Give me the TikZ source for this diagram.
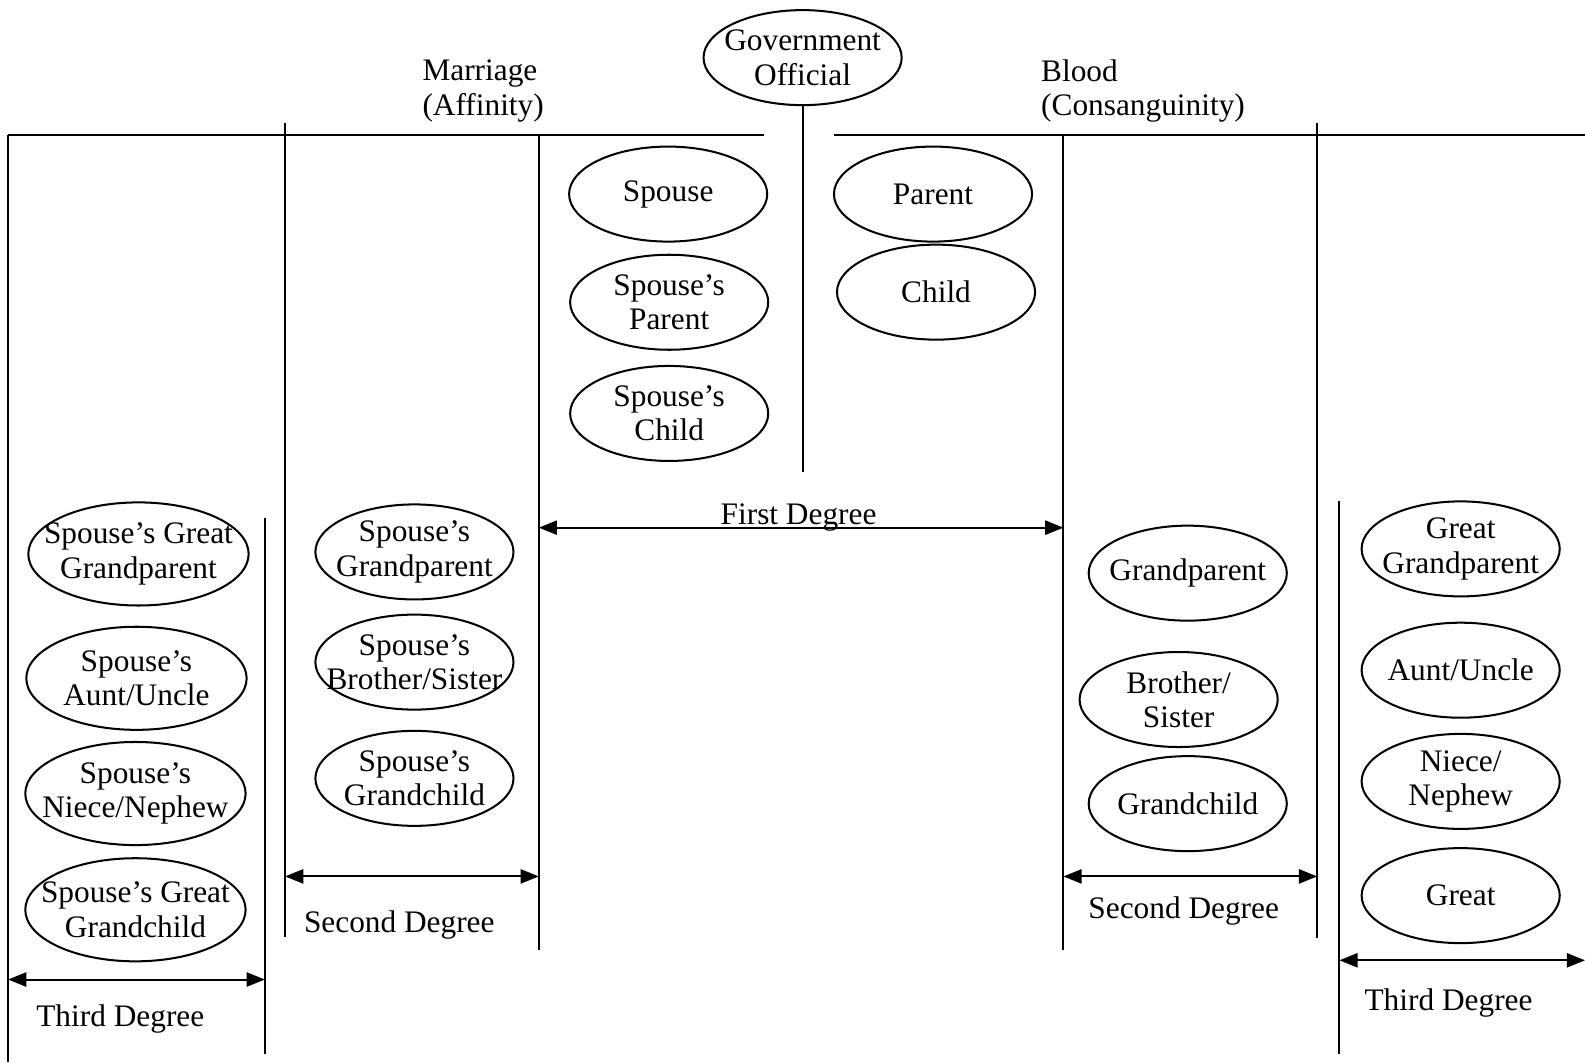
\documentclass[tikz,border=0pt]{standalone}
\usepackage{fontspec}
\setmainfont{Liberation Serif}
\usetikzlibrary{shapes,arrows.meta,positioning}

\begin{document}
\begin{tikzpicture}[x=0.5pt, y=-0.5pt, line width=1pt,
  every node/.style={font=\fontsize{15.5}{17}\selectfont, align=center, inner sep=0pt},
  rel/.style={ellipse, draw, minimum width=98pt, minimum height=47pt, inner sep=-10pt},
  relwide/.style={rel, minimum width=109pt, minimum height=51pt},
  span/.style={{Triangle[length=9pt,width=7pt]}-{Triangle[length=9pt,width=7pt]}}]

\useasboundingbox (0,0) rectangle (1568,1051);

% Official and the two sides
\node[rel] (gov) at (794,57) {Government\\Official};
\coordinate (govfoot) at (794,467);
\draw (gov) -- (govfoot);

\node[anchor=west, align=left] (marr) at (417,90) {Marriage\\(Affinity)};
\node[anchor=west, align=left] (blood) at (1029,90) {Blood\\(Consanguinity)};

\draw (8,134) -- (756,134);
\draw (825,134) -- (1568,134);

\foreach \x/\ya/\yb in {8/134/1051, 282/122/927, 533/134/940, 1052/134/940,
                        1303/122/928, 262/512/1043, 1325/496/1043}
    \draw (\x,\ya) -- (\x,\yb);

% First Degree
\node[rel] (sp) at (661,192) {Spouse};
\node[rel] (spp) at (662,299) {Spouse’s\\Parent};
\node[rel] (spc) at (662,409) {Spouse’s\\Child};
\node[rel] (par) at (923,192) {Parent};
\node[rel] (chi) at (926,289) {Child};

% Second Degree
\node[rel] (sgp) at (410,546) {Spouse’s\\Grandparent};
\node[rel] (sbs) at (410,655) {Spouse’s\\Brother/Sister};
\node[rel] (sgc) at (410,770) {Spouse’s\\Grandchild};
\node[rel] (gp) at (1175,567) {Grandparent};
\node[rel] (bs) at (1166,692) {Brother/\\Sister};
\node[rel] (gc) at (1175,795) {Grandchild};

% Third Degree
\node[relwide] (sggp) at (137,548) {Spouse’s Great\\Grandparent};
\node[relwide] (sau) at (135,671) {Spouse’s\\Aunt/Uncle};
\node[relwide] (snn) at (134,785) {Spouse’s\\Niece/Nephew};
\node[relwide] (sggc) at (134,900) {Spouse’s Great\\Grandchild};
\node[rel] (ggp) at (1445,543) {Great\\Grandparent};
\node[rel] (au) at (1445,663) {Aunt/Uncle};
\node[rel] (nn) at (1445,773) {Niece/\\Nephew};
\node[rel] (gr) at (1445,886) {Great};

% Degree spans
\coordinate (fd1) at (533,522);
\coordinate (fd2) at (1052,522);
\coordinate (sdl1) at (282,867);
\coordinate (sdl2) at (533,867);
\coordinate (sdr1) at (1052,867);
\coordinate (sdr2) at (1303,867);
\coordinate (tdl1) at (8,969);
\coordinate (tdl2) at (262,969);
\coordinate (tdr1) at (1325,950);
\coordinate (tdr2) at (1568,950);

\draw[span] (fd1) -- (fd2);
\draw[span] (sdl1) -- (sdl2);
\draw[span] (sdr1) -- (sdr2);
\draw[span] (tdl1) -- (tdl2);
\draw[span] (tdr1) -- (tdr2);

\node (fdeg) at (790,512) {First Degree};
\node (sdegl) at (395,915) {Second Degree};
\node (sdegr) at (1171,901) {Second Degree};
\node (tdegl) at (119,1008) {Third Degree};
\node (tdegr) at (1433,992) {Third Degree};

\end{tikzpicture}
\end{document}
